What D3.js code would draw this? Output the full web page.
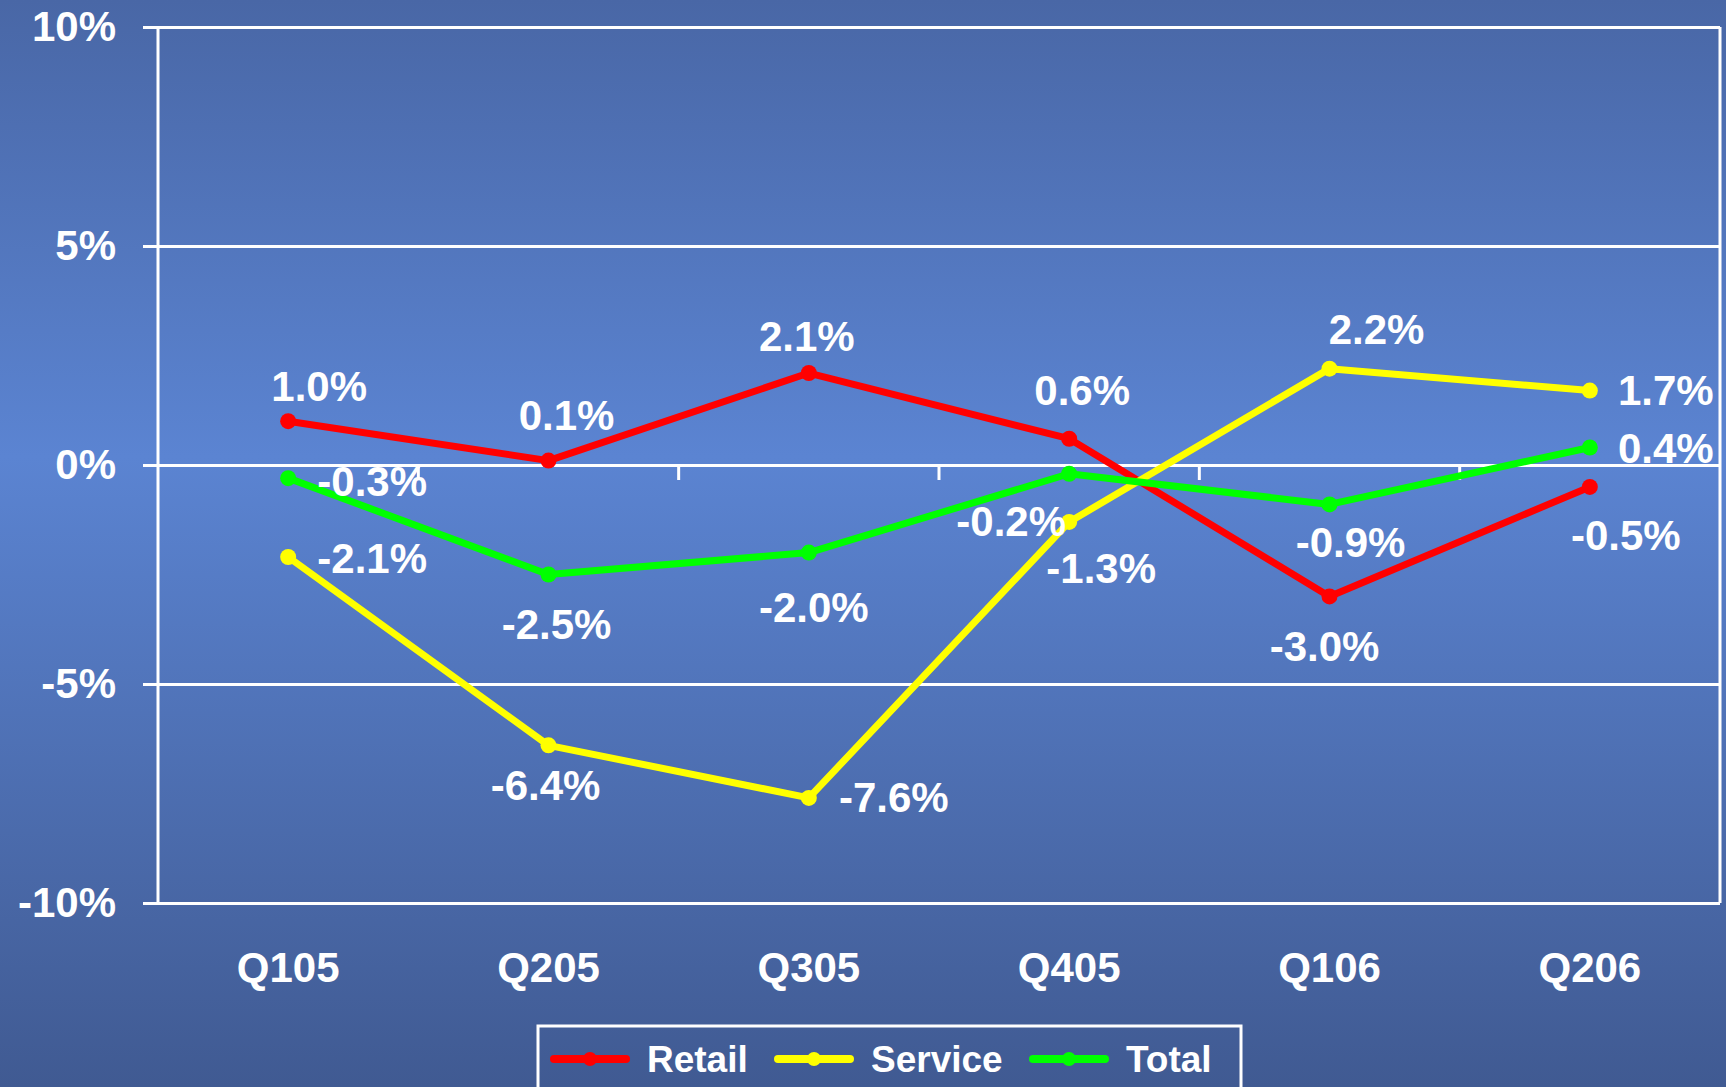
<!DOCTYPE html>
<html>
<head>
<meta charset="utf-8">
<script src="https://cdn.jsdelivr.net/npm/d3@7"></script>
<style>
  html, body { margin: 0; padding: 0; overflow: hidden; }
  text { font-family: "Liberation Sans", Arial, sans-serif; font-weight: bold; fill: #ffffff; }
</style>
</head>
<body>
<div id="chart"></div>
<script>
// data
var quarters = ["Q105", "Q205", "Q305", "Q405", "Q106", "Q206"];
var retail = [1.0, 0.1, 2.1, 0.6, -3.0, -0.5];
var service = [-2.1, -6.4, -7.6, -1.3, 2.2, 1.7];
var total = [-0.3, -2.5, -2.0, -0.2, -0.9, 0.4];
var yTicks = [-10, -5, 0, 5, 10];
var seriesNames = ["Retail", "Service", "Total"];

var width = 1726, height = 1087;
var margin = {top: 27, right: 6, bottom: 184, left: 158};
var plotW = width - margin.left - margin.right,
    plotH = height - margin.top - margin.bottom;

// label placement per point (offset from the marker), set by hand like the original
var labelOffsets = {
    Retail:  [[31, -35], [18, -45], [-2, -37], [13, -48], [-5, 50], [36, 49]],
    Service: [[84, 2], [-3, 40], [85, 0], [32, 47], [47, -39], [76, 0]],
    Total:   [[84, 3], [8, 50], [5, 55], [-58, 48], [21, 38], [76, 1]]
};

var series = [
    {name: "Retail", values: retail, color: "#ff0000"},
    {name: "Service", values: service, color: "#ffff00"},
    {name: "Total", values: total, color: "#00ff00"}
];

// plain hyphen for negatives, like the original
var fmt = function (d) { return d3.format(".1f")(d).replace("\u2212", "-") + "%"; };

var svg = d3.select("#chart").append("svg")
    .attr("width", width)
    .attr("height", height);

// background gradient
var grad = svg.append("defs").append("linearGradient")
    .attr("id", "bg")
    .attr("x1", 0).attr("y1", 0).attr("x2", 0).attr("y2", 1);
grad.append("stop").attr("offset", "0%").attr("stop-color", "#4967a6");
grad.append("stop").attr("offset", "42%").attr("stop-color", "#5b84d2");
grad.append("stop").attr("offset", "100%").attr("stop-color", "#405a92");

svg.append("rect")
    .attr("width", width).attr("height", height)
    .attr("fill", "url(#bg)");

var g = svg.append("g")
    .attr("transform", "translate(" + margin.left + "," + margin.top + ")");

var x = d3.scaleBand().domain(quarters).range([0, plotW]).padding(0);
var y = d3.scaleLinear().domain([-10, 10]).range([plotH, 0]);

function cx(i) { return x(quarters[i]) + x.bandwidth() / 2; }

// gridlines
g.append("g")
    .call(d3.axisLeft(y).tickValues(yTicks).tickSize(-plotW).tickFormat(""))
    .call(function (a) {
        a.select(".domain").remove();
        a.selectAll("line").attr("stroke", "#ffffff").attr("stroke-width", 3);
    });

// y axis with outward ticks
g.append("g")
    .call(d3.axisLeft(y).tickValues(yTicks).tickSize(15).tickPadding(27)
        .tickFormat(function (d) { return String(d).replace("\u2212", "-") + "%"; }))
    .call(function (a) {
        a.select(".domain").remove();
        a.selectAll("line").attr("stroke", "#ffffff").attr("stroke-width", 3);
        a.selectAll("text")
            .attr("fill", "#ffffff")
            .style("font-size", "42px")
            .style("font-family", "Liberation Sans, Arial, sans-serif")
            .style("font-weight", "bold");
    });

// plot frame left and right
g.append("line").attr("x1", 0).attr("x2", 0).attr("y1", 0).attr("y2", plotH)
    .attr("stroke", "#ffffff").attr("stroke-width", 3);
g.append("line").attr("x1", plotW).attr("x2", plotW).attr("y1", 0).attr("y2", plotH)
    .attr("stroke", "#ffffff").attr("stroke-width", 3);

// category ticks hanging off the zero line
g.append("g")
    .selectAll("line")
    .data(quarters.slice(1))
    .enter()
    .append("line")
    .attr("x1", function (d) { return x(d); })
    .attr("x2", function (d) { return x(d); })
    .attr("y1", y(0))
    .attr("y2", y(0) + 15)
    .attr("stroke", "#ffffff")
    .attr("stroke-width", 3);

// category labels
g.append("g")
    .attr("transform", "translate(0," + plotH + ")")
    .call(d3.axisBottom(x).tickSize(0).tickPadding(49))
    .call(function (a) {
        a.select(".domain").remove();
        a.selectAll("text")
            .attr("fill", "#ffffff")
            .style("font-size", "42px")
            .style("font-family", "Liberation Sans, Arial, sans-serif")
            .style("font-weight", "bold");
    });

var line = d3.line()
    .x(function (d, i) { return cx(i); })
    .y(function (d) { return y(d); });

series.forEach(function (s) {
    g.append("path")
        .datum(s.values)
        .attr("fill", "none")
        .attr("stroke", s.color)
        .attr("stroke-width", 7)
        .attr("stroke-linejoin", "round")
        .attr("d", line);

    g.append("g")
        .selectAll("circle")
        .data(s.values)
        .enter()
        .append("circle")
        .attr("cx", function (d, i) { return cx(i); })
        .attr("cy", function (d) { return y(d); })
        .attr("r", 8)
        .attr("fill", s.color);
});

// data labels drawn last so they sit over the lines
series.forEach(function (s) {
    g.append("g")
        .selectAll("text")
        .data(s.values)
        .enter()
        .append("text")
        .attr("x", function (d, i) { return cx(i) + labelOffsets[s.name][i][0]; })
        .attr("y", function (d, i) { return y(d) + labelOffsets[s.name][i][1]; })
        .attr("text-anchor", "middle")
        .attr("dominant-baseline", "central")
        .style("font-size", "42px")
        .text(fmt);
});

// legend
var legend = svg.append("g").attr("transform", "translate(538,1026)");
legend.append("rect")
    .attr("width", 703).attr("height", 80)
    .attr("fill", "none")
    .attr("stroke", "#ffffff")
    .attr("stroke-width", 3);

var legendX = [12, 236, 491];
var item = legend.selectAll("g.item")
    .data(series)
    .enter()
    .append("g")
    .attr("class", "item")
    .attr("transform", function (d, i) { return "translate(" + legendX[i] + ",33)"; });

item.append("line")
    .attr("x1", 4).attr("x2", 76)
    .attr("stroke", function (d) { return d.color; })
    .attr("stroke-width", 8)
    .attr("stroke-linecap", "round");
item.append("circle")
    .attr("cx", 40).attr("r", 7)
    .attr("fill", function (d) { return d.color; });
item.append("text")
    .attr("x", 97)
    .attr("dominant-baseline", "central")
    .style("font-size", "37px")
    .text(function (d) { return d.name; });
</script>
</body>
</html>
